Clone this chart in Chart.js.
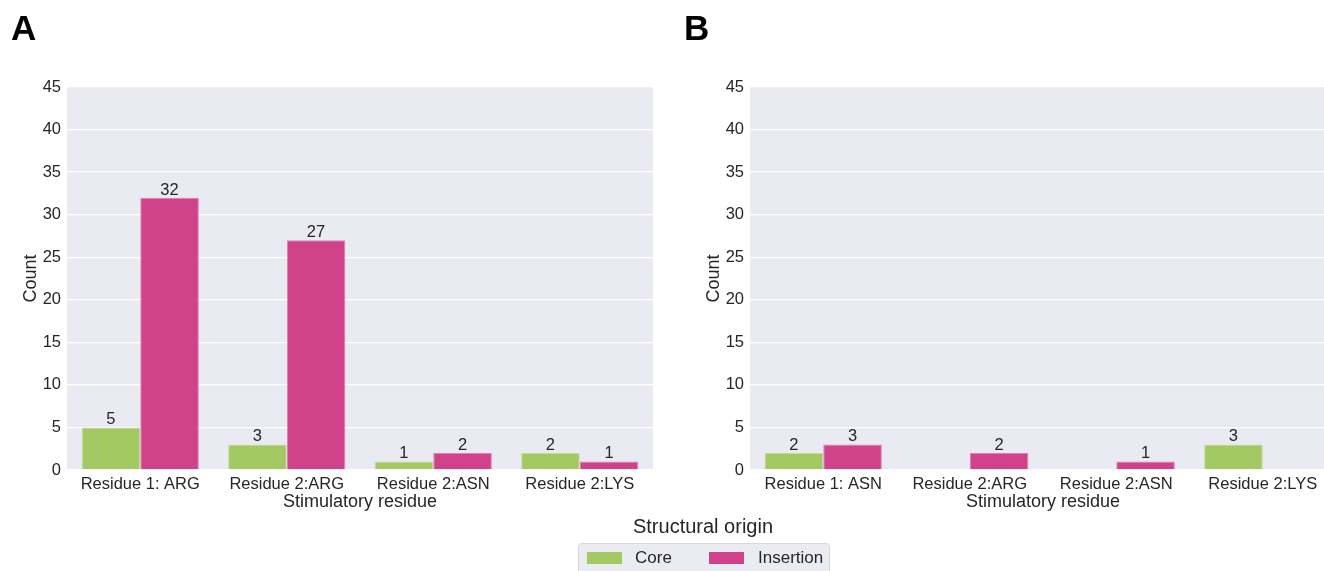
<!DOCTYPE html>
<html>
<head>
<meta charset="utf-8">
<script src="https://cdn.jsdelivr.net/npm/chart.js@4.4.1/dist/chart.umd.min.js"></script>
<style>
  html, body { margin: 0; padding: 0; width: 1324px; height: 571px; overflow: hidden; background: #ffffff; }
  body { position: relative; font-family: "Liberation Sans", Arial, sans-serif; color: #262626; }
  canvas { position: absolute; top: 0; }
  #chartA { left: 0; }
  #chartB { left: 683px; }
  .panel-tag { position: absolute; top: 10px; font-weight: bold; font-size: 35px; line-height: 1; color: #000; }
  #legend { position: absolute; left: 578px; top: 514px; width: 252px; }
  #legend .title { text-align: center; font-size: 20px; line-height: 24px; margin-left: -2px; }
  #legend .box { margin-top: 5px; height: 40px; background: #ebebf2; border: 1px solid #d6d6de; border-radius: 4px; box-sizing: border-box; position: relative; }
  #legend .item { position: absolute; top: 6px; font-size: 17px; line-height: 20px; }
  #legend .swatch { position: absolute; top: 3px; width: 35px; height: 12px; }
</style>
</head>
<body>
<canvas id="chartA" width="662" height="571"></canvas>
<canvas id="chartB" width="662" height="571"></canvas>
<div class="panel-tag" style="left:11px">A</div>
<div class="panel-tag" style="left:684px">B</div>
<div id="legend">
  <div class="title">Structural origin</div>
  <div class="box">
    <div class="swatch" style="left:8px;top:8px;background:#a3c963"></div>
    <div class="item" style="left:56px;top:4px">Core</div>
    <div class="swatch" style="left:130px;top:8px;background:#d0438b"></div>
    <div class="item" style="left:179px;top:4px">Insertion</div>
  </div>
</div>
<script>
// Panel A
const categoriesA = ['Residue 1: ARG', 'Residue 2:ARG', 'Residue 2:ASN', 'Residue 2:LYS'];
const coreA = [5, 3, 1, 2];
const insertionA = [32, 27, 2, 1];

// Panel B (empty slots have no bar)
const categoriesB = ['Residue 1: ASN', 'Residue 2:ARG', 'Residue 2:ASN', 'Residue 2:LYS'];
const coreB = [2, null, null, 3];
const insertionB = [3, 2, 1, null];

// Count axis
const yMin = 0;
const yMax = 45;
const yStep = 5;

const seriesNames = ['Core', 'Insertion'];
const coreColor = '#a3c963';
const insertionColor = '#d0438b';
const textColor = '#262626';
const FONT = '"Liberation Sans", Arial, sans-serif';

// fills the plot area with the darkgrid face colour
const plotBackground = {
  id: 'plotBackground',
  beforeDraw(chart) {
    const { ctx, chartArea: a } = chart;
    ctx.save();
    ctx.fillStyle = '#eaeaf2';
    ctx.fillRect(a.left, a.top, a.right - a.left, a.bottom - a.top);
    ctx.restore();
  }
};

// writes each bar's count above it
const barValues = {
  id: 'barValues',
  afterDatasetsDraw(chart) {
    const { ctx } = chart;
    ctx.save();
    ctx.fillStyle = textColor;
    ctx.font = '16.5px ' + FONT;
    ctx.textAlign = 'center';
    ctx.textBaseline = 'alphabetic';
    chart.data.datasets.forEach((ds, i) => {
      chart.getDatasetMeta(i).data.forEach((bar, j) => {
        const v = ds.data[j];
        if (v === null || v === undefined) return;
        ctx.fillText(String(v), bar.x, bar.y - 3);
      });
    });
    ctx.restore();
  }
};

function makeChart(id, labels, core, insertion) {
  return new Chart(document.getElementById(id), {
    type: 'bar',
    data: {
      labels: labels,
      datasets: [
        { label: seriesNames[0], data: core, backgroundColor: coreColor, borderColor: '#c4dd9a', borderWidth: 1, borderSkipped: 'bottom' },
        { label: seriesNames[1], data: insertion, backgroundColor: insertionColor, borderColor: '#e07fb2', borderWidth: 1, borderSkipped: 'bottom' }
      ]
    },
    options: {
      responsive: false,
      animation: false,
      devicePixelRatio: 1,
      layout: { padding: { top: 87, right: 9, bottom: 56, left: 0 } },
      datasets: { bar: { categoryPercentage: 0.8, barPercentage: 1.0 } },
      plugins: { legend: { display: false }, tooltip: { enabled: false } },
      scales: {
        x: {
          grid: { display: false, drawTicks: false },
          border: { display: false },
          ticks: { color: textColor, font: { family: FONT, size: 16.5 }, padding: 5, maxRotation: 0 },
          title: { display: true, text: 'Stimulatory residue', color: textColor, font: { family: FONT, size: 18 }, padding: { top: 0, bottom: 2 } },
          afterFit(scale) { scale.height = 45; }
        },
        y: {
          min: yMin,
          max: yMax,
          grid: { color: '#ffffff', lineWidth: 1.3, drawTicks: false },
          border: { display: false },
          ticks: { stepSize: yStep, color: textColor, font: { family: FONT, size: 16.5 }, padding: 6 },
          title: { display: true, text: 'Count', color: textColor, font: { family: FONT, size: 18 }, padding: { top: 20, bottom: 0 } },
          afterFit(scale) { scale.width = 67; }
        }
      }
    },
    plugins: [plotBackground, barValues]
  });
}

makeChart('chartA', categoriesA, coreA, insertionA);
makeChart('chartB', categoriesB, coreB, insertionB);
</script>
</body>
</html>
